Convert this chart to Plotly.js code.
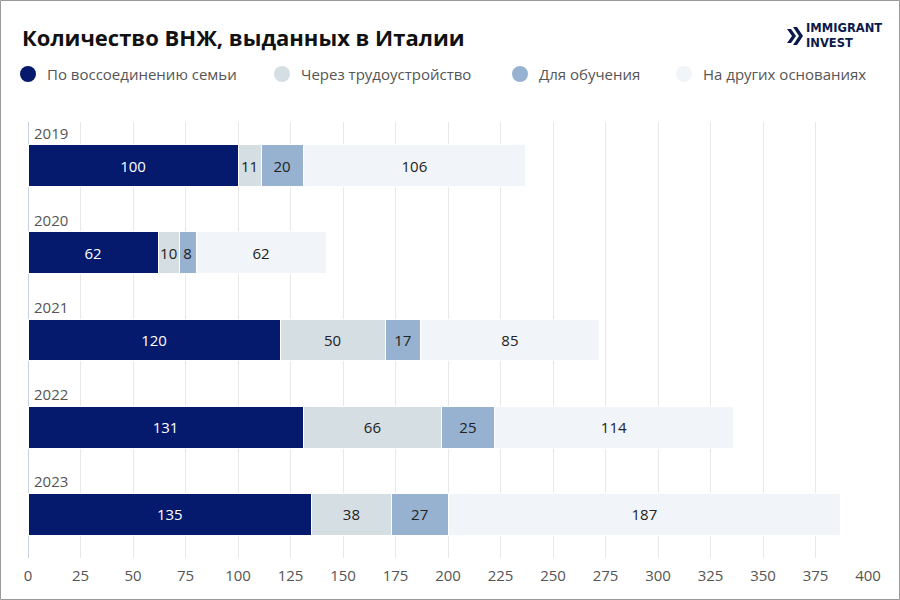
<!DOCTYPE html>
<html><head><meta charset="utf-8">
<script src="https://cdn.plot.ly/plotly-3.0.1.min.js"></script>
<style>html,body{margin:0;padding:0;background:#fff}#chart{width:900px;height:600px}</style>
</head><body><div id="chart"></div>
<script>
const years = ['2019','2020','2021','2022','2023'];
const family = [100, 62, 120, 131, 135];
const work = [11, 10, 50, 66, 38];
const study = [20, 8, 17, 25, 27];
const other = [106, 62, 85, 114, 187];
const seriesNames = ['По воссоединению семьи','Через трудоустройство','Для обучения','На других основаниях'];
const xTicks = [0,25,50,75,100,125,150,175,200,225,250,275,300,325,350,375,400];

const colors = ['#05196d','#d4dee3','#97b1d1','#f1f5f9'];
const textColors = ['#ffffff','#222222','#222222','#222222'];
const FONT = 'Open Sans, sans-serif';

const L=28, R=868, T=122, B=558;
const px = x => (x-L)/(R-L);
const py = y => (B-y)/(B-T);

const allSeries = [family, work, study, other];
const traces = [];
allSeries.forEach((vals,i)=>{
  traces.push({
    type:'bar', orientation:'h', y: years, x: vals, name: seriesNames[i],
    marker:{color: colors[i], line:{color:'#ffffff', width:1}},
    text: vals.map(String), textposition:'inside', insidetextanchor:'middle',
    textangle:0, constraintext:'none',
    textfont:{family:FONT, size:15, color:textColors[i]},
    showlegend:false, hoverinfo:'skip', width:0.48
  });
});

const annotations = years.map((y,i)=>({
  xref:'x', yref:'y', x:0, y:i, text:y, showarrow:false, xanchor:'left', yanchor:'middle',
  xshift:4, yshift:33, font:{family:FONT, size:15, color:'#555555'}
}));
annotations.push({xref:'paper', yref:'paper', x:px(804), y:py(36), text:'<b>IMMIGRANT<br>INVEST</b>', showarrow:false,
  xanchor:'left', yanchor:'middle', align:'left', font:{family:'DejaVu Sans, sans-serif', size:11.5, color:'#0b1a4a'}});

// manual legend
const legMarkerX = [28, 282, 520, 684];
const legY = 74;
const shapes = [];
seriesNames.forEach((n,i)=>{
  const cx = legMarkerX[i], r = 8;
  shapes.push({type:'circle', xref:'paper', yref:'paper', x0:px(cx-r), x1:px(cx+r), y0:py(legY+r), y1:py(legY-r),
    fillcolor: colors[i], line:{width:0}});
  annotations.push({xref:'paper', yref:'paper', x:px(cx+17), y:py(legY), text:n, showarrow:false, xanchor:'left', yanchor:'middle',
    font:{family:FONT, size:15, color:'#555555'}});
});

function path(pts){ return 'M '+pts.map(p=>px(p[0])+','+py(p[1])).join(' L ')+' Z'; }
shapes.push(
  {type:'path', xref:'paper', yref:'paper', path: path([[787,29],[791,29],[796,36],[791,43],[787,43],[792,36]]), fillcolor:'#0b1a4a', line:{width:0}},
  {type:'path', xref:'paper', yref:'paper', path: path([[793,27],[797,27],[803,36],[797,45],[793,45],[799,36]]), fillcolor:'#0b1a4a', line:{width:0}},
  {type:'rect', xref:'paper', yref:'paper', x0:px(0.5), x1:px(899.5), y0:py(599.5), y1:py(0.5), line:{color:'#9a9a9a', width:1}, fillcolor:'rgba(0,0,0,0)'}
);

const layout = {
  width:900, height:600, paper_bgcolor:'#ffffff', plot_bgcolor:'#ffffff',
  margin:{l:L, r:900-R, t:T, b:600-B},
  barmode:'stack', showlegend:false,
  title:{text:'<b>Количество ВНЖ, выданных в Италии</b>', xref:'container', yref:'container', x:22/900, y:1-38/600,
    xanchor:'left', yanchor:'middle', font:{family:FONT, size:22, color:'#111111'}},
  xaxis:{range:[0,400], tickvals:xTicks, ticktext:xTicks.map(String), showgrid:true, gridcolor:'#e8e8e8', gridwidth:1,
    zeroline:true, zerolinecolor:'#c8d2e6', zerolinewidth:1, showline:false, ticks:'', ticklen:0, automargin:false,
    ticklabelstandoff:7,
    tickfont:{family:FONT, size:15, color:'#555555'}, fixedrange:true},
  yaxis:{type:'category', categoryorder:'array', categoryarray:years, range:[4.5,-0.5], showticklabels:false, showgrid:false, zeroline:false, fixedrange:true, automargin:false},
  uniformtext:{minsize:15, mode:'show'},
  annotations: annotations, shapes: shapes, hovermode:false
};
Plotly.newPlot('chart', traces, layout, {displayModeBar:false, staticPlot:true});
</script></body></html>
